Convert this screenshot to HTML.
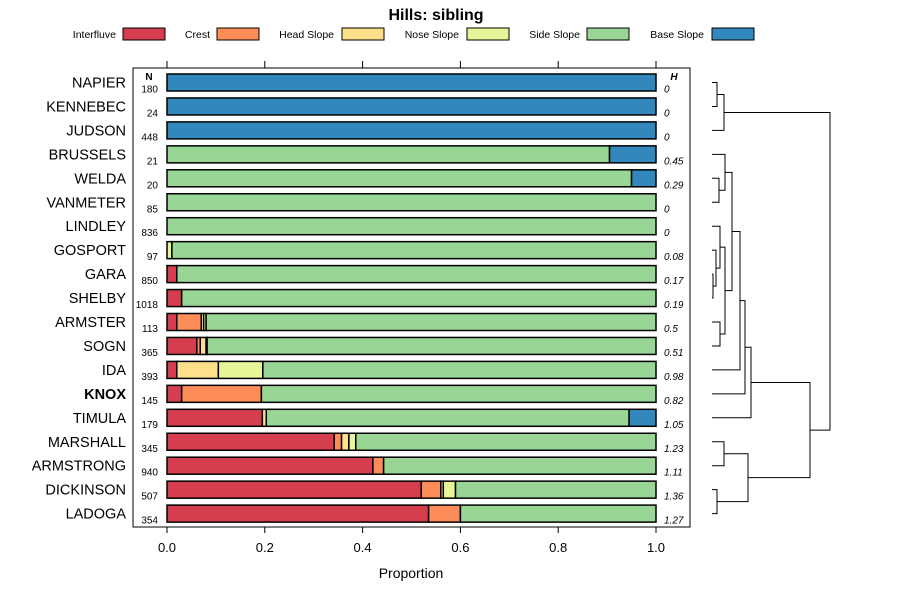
<!DOCTYPE html>
<html><head><meta charset="utf-8"><style>
body{margin:0;background:#fff}
svg{font-family:"Liberation Sans",sans-serif;display:block}
</style></head><body>
<svg id="c" width="900" height="600">
<text x="436" y="20" text-anchor="middle" font-size="16" font-weight="bold">Hills: sibling</text>
<g id="legend"></g>
<rect x="133" y="68" width="557" height="459" fill="none" stroke="#000" stroke-width="1"/>
<g id="bars"></g><g id="axis"></g><g id="dend"></g>
<text x="149" y="80" text-anchor="middle" font-size="10" font-weight="bold">N</text>
<text x="674" y="80" text-anchor="middle" font-size="10" font-weight="bold" font-style="italic">H</text>
<text x="411" y="578" text-anchor="middle" font-size="14">Proportion</text>
</svg>
<script>
const classes=["Interfluve","Crest","Head Slope","Nose Slope","Side Slope","Base Slope"];
const colors=["#D53E4F","#FC8D59","#FEE08B","#E6F598","#99D594","#3288BD"];
const series=["NAPIER","KENNEBEC","JUDSON","BRUSSELS","WELDA","VANMETER","LINDLEY","GOSPORT","GARA","SHELBY","ARMSTER","SOGN","IDA","KNOX","TIMULA","MARSHALL","ARMSTRONG","DICKINSON","LADOGA"];
const nVals=[180,24,448,21,20,85,836,97,850,1018,113,365,393,145,179,345,940,507,354];
const hVals=["0","0","0","0.45","0.29","0","0","0.08","0.17","0.19","0.5","0.51","0.98","0.82","1.05","1.23","1.11","1.36","1.27"];
const props=[
[0,0,0,0,0,1],[0,0,0,0,0,1],[0,0,0,0,0,1],
[0,0,0,0,0.905,0.095],[0,0,0,0,0.95,0.05],[0,0,0,0,1,0],[0,0,0,0,1,0],
[0,0,0,0.01,0.99,0],[0.02,0,0,0,0.98,0],[0.03,0,0,0,0.97,0],
[0.02,0.05,0.005,0.005,0.92,0],[0.061,0.007,0.012,0.002,0.918,0],
[0.02,0,0.085,0.091,0.804,0],[0.03,0.163,0,0,0.807,0],
[0.195,0,0.008,0,0.742,0.055],[0.342,0.015,0.015,0.014,0.614,0],
[0.421,0.022,0,0,0.557,0],[0.52,0.04,0.005,0.025,0.41,0],[0.535,0.065,0,0,0.4,0]];
const ticks=[0,0.2,0.4,0.6,0.8,1.0];
const tickLabels=["0.0","0.2","0.4","0.6","0.8","1.0"];
const NS="http://www.w3.org/2000/svg";
const X=v=>167+v*489;
const Y=i=>82.5+i*23.95;
function mk(tag,at,par,txt){const e=document.createElementNS(NS,tag);for(const k in at)e.setAttribute(k,at[k]);if(txt!=null)e.textContent=txt;par.appendChild(e);return e;}
const lg=document.getElementById('legend');
const lx=[116,210,334,459,580,704],bx=[123,217,342,467,587,712];
classes.forEach((c,i)=>{
 const t=mk('text',{x:lx[i],y:38,'text-anchor':'end','font-size':10.5},lg,c);
 
 
 const r=mk('rect',{x:bx[i],y:28,width:42,height:12,fill:colors[i],stroke:'#000','stroke-width':1},lg);
 
 
});
const bg=document.getElementById('bars');
series.forEach((s,i)=>{
 const y=Y(i);
 const lab=mk('text',{x:126,y:y+5,'text-anchor':'end','font-size':14.5,'font-weight':s==="KNOX"?'bold':'normal'},bg,s);
 
 
 const n=mk('text',{x:158,y:y+10,'text-anchor':'end','font-size':10},bg,String(nVals[i]));
 
 
 const h=mk('text',{x:664,y:y+10,'font-size':10,'font-style':'italic'},bg,hVals[i]);
 
 
 let acc=0;
 props[i].forEach((p,k)=>{
  if(p<=0)return;
  const r=mk('rect',{x:X(acc),y:y-8.5,width:X(acc+p)-X(acc),height:17,fill:colors[k],stroke:'#000','stroke-width':1.5},bg);
  
  
  acc+=p;
 });
});
const ax=document.getElementById('axis');
ticks.forEach((t,i)=>{
 const x=X(t);
 mk('line',{x1:x,x2:x,y1:527,y2:533,stroke:'#000'},ax);
 mk('line',{x1:x,x2:x,y1:61,y2:68,stroke:'#000'},ax);
 const l=mk('text',{x:x,y:552,'text-anchor':'middle','font-size':13},ax,tickLabels[i]);
 
 
});
const dg=document.getElementById('dend');
function leaf(i){return {x:712,y:Y(i)};}
function m(a,b,h){mk('path',{d:`M${a.x},${a.y}H${h}V${b.y}H${b.x}`,fill:'none',stroke:'#000','stroke-width':1},dg);return {x:h,y:(a.y+b.y)/2};}
const A=m(m(leaf(0),leaf(1),717),leaf(2),724);
const B1=m(leaf(3),m(leaf(4),leaf(5),719),725);
const g1=m(leaf(6),m(leaf(7),m(leaf(8),leaf(9),713),716),720);
const B2=m(g1,m(leaf(10),leaf(11),720),725);
let B=m(B1,B2,732);
B=m(B,leaf(12),740);B=m(B,leaf(13),745);B=m(B,leaf(14),751);
const C=m(m(leaf(15),leaf(16),724),m(leaf(17),leaf(18),717),748);
const BC=m(B,C,810);
m(A,BC,830);
</script>
</body></html>
